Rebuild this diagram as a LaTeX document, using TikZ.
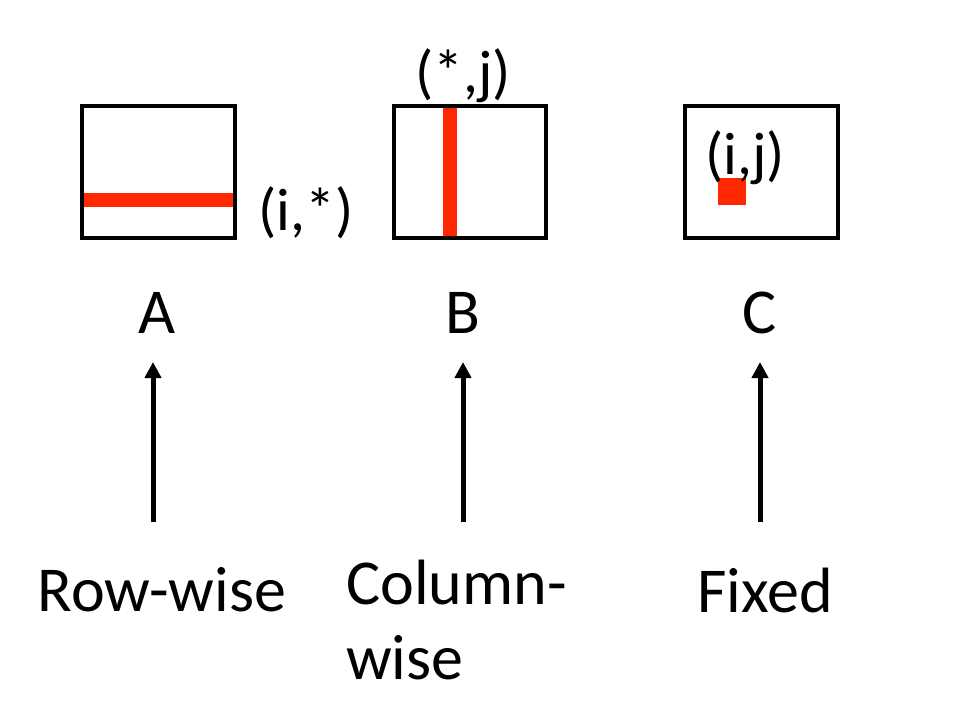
\documentclass[tikz,border=0pt]{standalone}
\usepackage{fontspec}
\setmainfont{Carlito}
\usetikzlibrary{arrows.meta}
\begin{document}
\begin{tikzpicture}[x=1pt,y=-1pt,
  box/.style={draw=black,line width=4pt},
  bar/.style={fill={rgb,255:red,255;green,40;blue,0}},
  lab/.style={font=\fontsize{60}{66}\selectfont,inner sep=0},
  big/.style={font=\fontsize{64}{75}\selectfont,inner sep=0},
  arr/.style={line width=5pt,-{Triangle[length=16pt,width=16pt]}}]
\useasboundingbox (0,0) rectangle (955,725);
\fill[bar] (84,193) rectangle (233,207);
\fill[bar] (443,108) rectangle (457,236);
\fill[bar] (718,178) rectangle (746,205);
\draw[box] (82,106) rectangle (235,238);
\draw[box] (394,106) rectangle (546,238);
\draw[box] (685,106) rectangle (838,238);
\node[lab] (li) at (306,213) {(i,*)};
\node[lab] (lj) at (463,76) {(*,j)};
\node[lab] (lij) at (745,158) {(i,j)};
\node[big] (A) at (157,313) {A};
\node[big] (B) at (463,313) {B};
\node[big] (C) at (760,313) {C};
\node[big] (R) at (162,590) {Row-wise};
\node[big,align=left,anchor=north west] (Co) at (346,560) {Column-\\wise};
\node[big] (F) at (765,590) {Fixed};
\coordinate (a1) at (153,522); \coordinate (a2) at (153,362);
\coordinate (b1) at (463,522); \coordinate (b2) at (463,362);
\coordinate (c1) at (760,522); \coordinate (c2) at (760,362);
\draw[arr] (a1) -- (a2);
\draw[arr] (b1) -- (b2);
\draw[arr] (c1) -- (c2);
\end{tikzpicture}
\end{document}
